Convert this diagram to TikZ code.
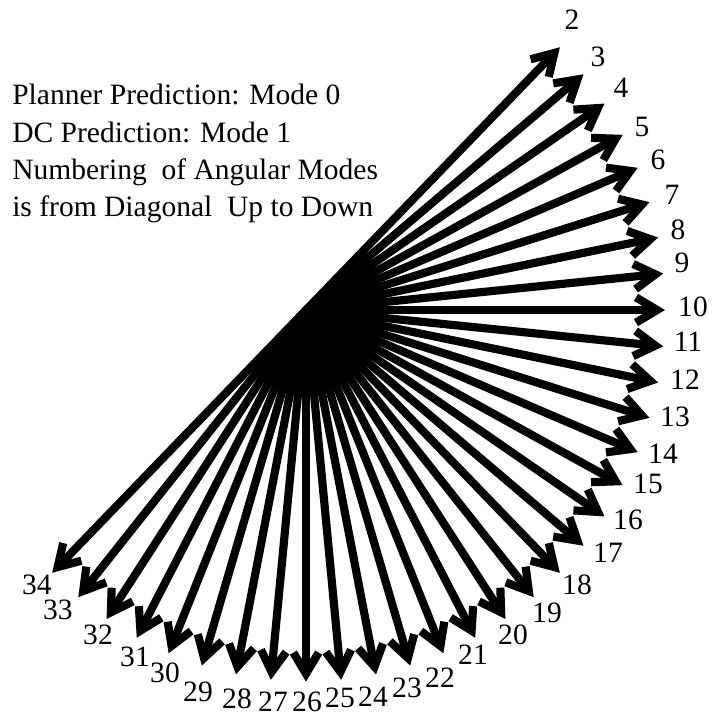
\documentclass[tikz,border=0pt]{standalone}
\usepackage{fontspec}
\setmainfont{Liberation Serif}
\usetikzlibrary{arrows.meta,calc}

\begin{document}
\begin{tikzpicture}[
    x=0.025cm,y=-0.025cm,
    modearr/.style={-{Straight Barb[length=15pt,width=18pt]},
                    line width=5.8pt},
    modelbl/.style={font=\fontsize{21}{25}\selectfont,inner sep=0pt},
    notetxt/.style={font=\fontsize{21}{26.5}\selectfont,align=left,
                    inner sep=0pt,anchor=north west},
  ]
  \useasboundingbox (0,0) rectangle (712,718);
  \coordinate (o) at (306,310);
  % angular modes 2..34, one arrow each
  \foreach \m/\lx/\ly in {2/572/20, 3/598/57, 4/621/88, 5/642/127,
      6/658/160, 7/672/195, 8/678/230, 9/682/263, 10/693/307,
      11/688/342, 12/685/380, 13/675/417, 14/663/454, 15/648/484,
      16/628/520, 17/608/553, 18/577/585, 19/547/613, 20/513/635,
      21/473/655, 22/440/678, 23/407/688, 24/373/697, 25/340/698,
      26/307/702, 27/273/702, 28/237/699, 29/198/692, 30/165/673,
      31/135/657, 32/98/635, 33/58/610, 34/37/585}{
    \coordinate (t\m) at ($(o)+({(\m-10)*5.625}:359 and 371.6)$);
    \draw[modearr] (o) -- (t\m);
    \node[modelbl] (l\m) at (\lx,\ly) {\m};
  }
  \node[notetxt] (note) at (12,84) {Planner Prediction: Mode 0\\
    DC Prediction: Mode 1\\
    Numbering\ \ of Angular Modes\\
    is from Diagonal\ \ Up to Down};
\end{tikzpicture}
\end{document}
